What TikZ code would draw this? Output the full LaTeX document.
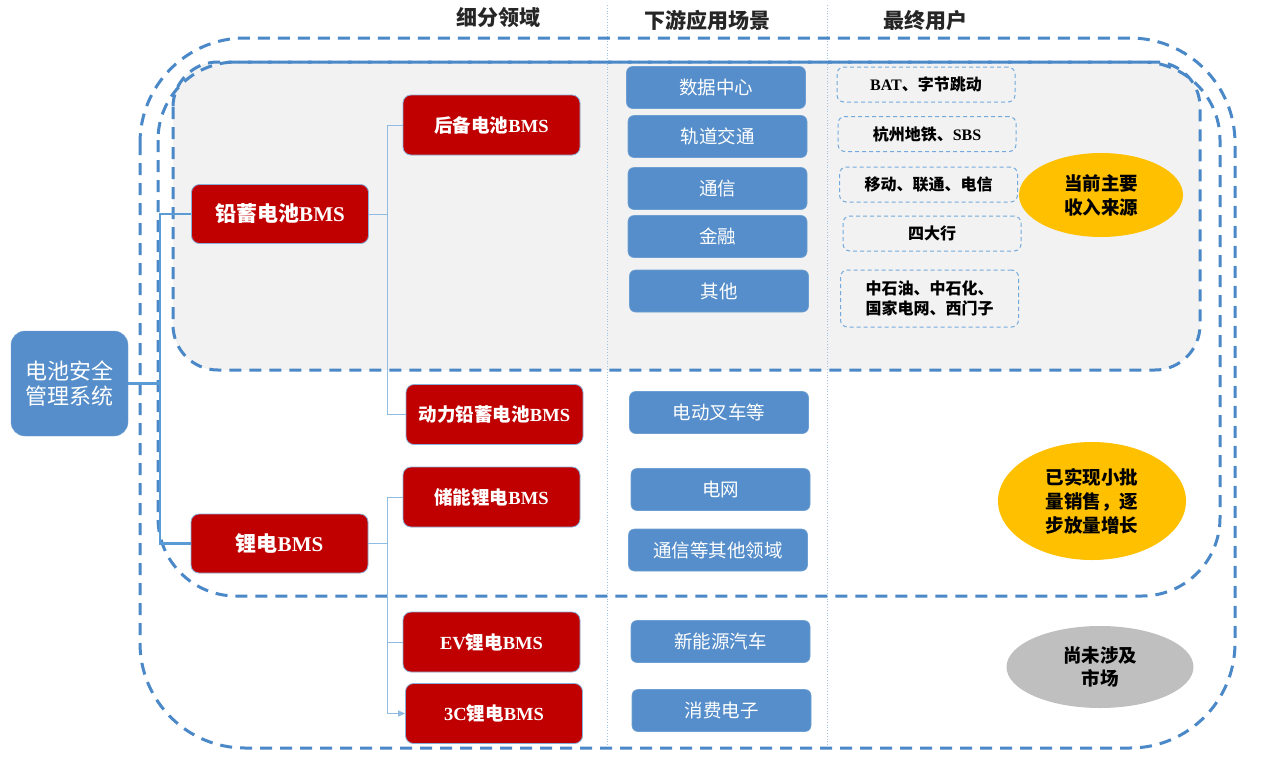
\documentclass[tikz,border=0pt]{standalone}
\usepackage{fontspec}
\setmainfont{Noto Sans CJK SC}
\newfontfamily\latf{Liberation Serif}
\usetikzlibrary{shapes.geometric,arrows.meta}
\definecolor{dblue}{HTML}{4A88C8}
\definecolor{bfill}{HTML}{558ECA}
\definecolor{rfill}{HTML}{C00000}
\definecolor{gfill}{HTML}{F2F2F2}
\definecolor{sepc}{HTML}{9DC3E6}
\definecolor{trunkc}{HTML}{5B9BD5}
\definecolor{ofill}{HTML}{FFC000}
\definecolor{grayf}{HTML}{BFBFBF}
\newcommand\latb[1]{{\latf\bfseries #1}}
\begin{document}
\begin{tikzpicture}[x=1pt,y=-1pt,
  container/.style={draw=dblue,line width=3pt,dash pattern=on 12pt off 8pt},
  sep/.style={draw=sepc,line width=0.8pt,dotted},
  header/.style={font=\fontsize{21}{24}\selectfont\bfseries,text=black!85},
  rootbox/.style={fill=bfill,draw=bfill!80!white,rounded corners=14pt,minimum width=117pt,minimum height=105pt,inner sep=0pt,text=white,align=center,font=\fontsize{22}{25}\selectfont},
  redA/.style={fill=rfill,draw=bfill!70!white,line width=0.8pt,rounded corners=8pt,minimum width=177pt,minimum height=59pt,inner sep=0pt,text=white,font=\fontsize{21}{24}\selectfont\bfseries},
  redB/.style={fill=rfill,draw=bfill!70!white,line width=0.8pt,rounded corners=8pt,minimum width=177pt,minimum height=60pt,inner sep=0pt,text=white,font=\fontsize{18.5}{22}\selectfont\bfseries},
  appbox/.style={fill=bfill,draw=bfill!85!white,line width=0.6pt,rounded corners=6pt,minimum width=179pt,minimum height=42pt,inner sep=0pt,text=white,font=\fontsize{18.5}{22}\selectfont},
  userbox/.style={fill=gfill,draw=trunkc!85!white,line width=1pt,dash pattern=on 4pt off 3pt,rounded corners=7pt,minimum width=178pt,minimum height=35pt,inner sep=0pt,text=black,align=center,font=\fontsize{16}{20}\selectfont\bfseries},
  oval/.style={ellipse,inner sep=0pt,text=black,align=center,font=\fontsize{18.5}{24}\selectfont\bfseries},
  trunk/.style={draw=trunkc,line width=2.5pt},
  branch/.style={draw=sepc!80!trunkc,line width=1pt}
]
\useasboundingbox (0,0) rectangle (1269,774);
\fill[white] (0,0) rectangle (1269,774);

% gray lead-acid region
\fill[gfill,rounded corners=45pt] (173,62) rectangle (1200,370);

% column separators
\draw[sep] (607,5) -- (607,746);
\draw[sep] (827,5) -- (827,746);

% dashed containers
\draw[container,rounded corners=105pt] (140,38) rectangle (1235,748);
\draw[container,rounded corners=78pt] (158,62) rectangle (1220,596);
\draw[container,rounded corners=45pt] (173,62) rectangle (1200,370);

% headers
\node[header] (h1) at (498,18) {细分领域};
\node[header] (h2) at (707,20) {下游应用场景};
\node[header] (h3) at (925,21) {最终用户};

% root
\node[rootbox] (root) at (69.5,383.5) {电池安全\\管理系统};

% level 1
\node[redA] (lead) at (280,214) {铅蓄电池\latb{BMS}};
\node[redA] (li) at (279.5,543.5) {锂电\latb{BMS}};

% level 2
\node[redB] (hb) at (491.5,125) {后备电池\latb{BMS}};
\node[redB] (dl) at (494.5,414.5) {动力铅蓄电池\latb{BMS}};
\node[redB] (cn) at (491.5,497) {储能锂电\latb{BMS}};
\node[redB] (ev) at (491.5,642) {\latb{EV}锂电\latb{BMS}};
\node[redB] (c3) at (494,713.5) {\latb{3C}锂电\latb{BMS}};

% applications
\node[appbox] (a1) at (716,87.5) {数据中心};
\node[appbox] (a2) at (717.5,136.5) {轨道交通};
\node[appbox] (a3) at (717.5,188.5) {通信};
\node[appbox] (a4) at (717.5,236.5) {金融};
\node[appbox] (a5) at (719,291) {其他};
\node[appbox] (a6) at (719,412.5) {电动叉车等};
\node[appbox] (a7) at (720.5,489.5) {电网};
\node[appbox] (a8) at (718,550) {通信等其他领域};
\node[appbox] (a9) at (720.5,641.5) {新能源汽车};
\node[appbox] (a10) at (721.5,710.5) {消费电子};

% end users
\node[userbox] (u1) at (926,84.5) {\latb{BAT}、字节跳动};
\node[userbox] (u2) at (927,134) {杭州地铁、\latb{SBS}};
\node[userbox] (u3) at (928.5,184.5) {移动、联通、电信};
\node[userbox] (u4) at (932,233.5) {四大行};
\node[userbox,minimum height=57pt] (u5) at (929.5,298.5) {中石油、中石化、\\国家电网、西门子};

% ovals
\node[oval,fill=ofill,minimum width=164pt,minimum height=84pt] (e1) at (1101,195) {当前主要\\收入来源};
\node[oval,fill=ofill,minimum width=188pt,minimum height=118pt] (e2) at (1092,501) {已实现小批\\量销售，逐\\步放量增长};
\node[oval,fill=grayf,minimum width=187pt,minimum height=82pt,font=\fontsize{18.5}{23}\selectfont\bfseries] (e3) at (1100,667) {尚未涉及\\市场};

% connectors
\coordinate (tx) at (160,0);
\coordinate (bx) at (387,0);
\draw[trunk] (root.east) -- (root.east -| tx);
\draw[trunk] (lead.west) -- (lead.west -| tx) -- (li.west -| tx) -- (li.west);
\draw[branch] (lead.east) -- (lead.east -| bx);
\draw[branch] (hb.west) -- (hb.west -| bx) -- (dl.west -| bx) -- (dl.west);
\draw[branch] (li.east) -- (li.east -| bx);
\draw[branch] (cn.west) -- (cn.west -| bx) -- (c3.west -| bx);
\draw[branch] (ev.west -| bx) -- (ev.west);
\draw[branch,-{Triangle[length=7pt,width=6pt]}] (c3.west -| bx) -- (c3.west);
\end{tikzpicture}
\end{document}
